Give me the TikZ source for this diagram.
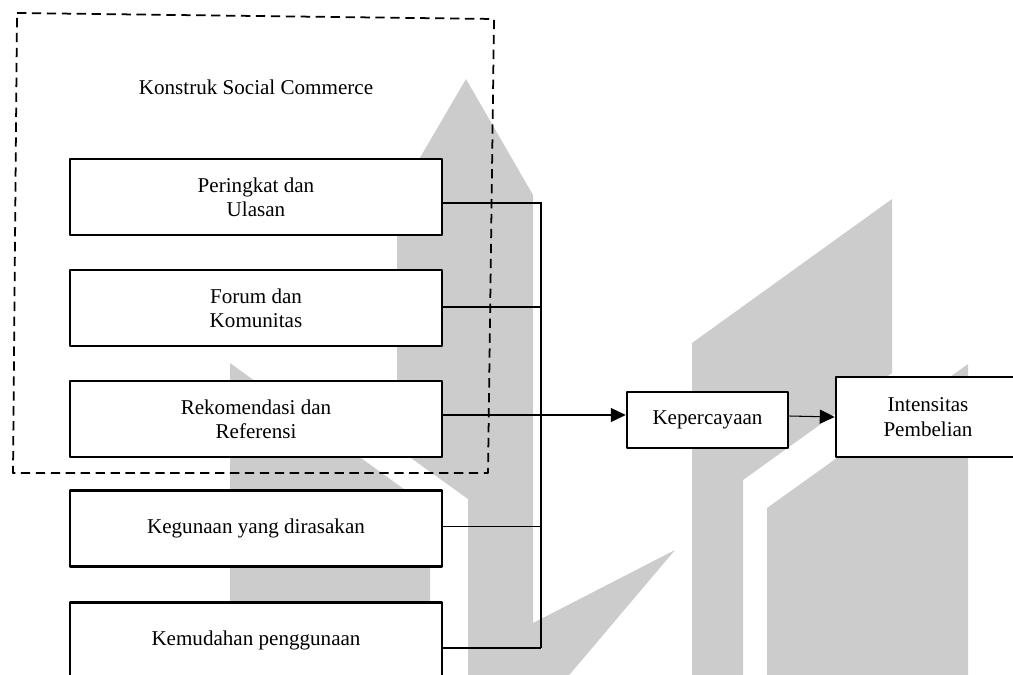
\documentclass[tikz,border=0pt]{standalone}
\usepackage{fontspec}
\setmainfont{Liberation Serif}
\usetikzlibrary{arrows.meta,calc}
\definecolor{wmark}{RGB}{204,204,204}
\begin{document}
\begin{tikzpicture}[x=0.02cm,y=-0.02cm,>={Triangle[length=8.5pt,width=8pt]},
	font={\fontsize{12}{13.8}\selectfont}, line join=round,
	box/.style={draw,fill=white,line width=1.5pt,minimum width=7.44cm,minimum height=1.52cm,align=center,inner sep=0pt},
	link/.style={line width=0.6pt},
	logo/.style={fill=wmark,draw=none}]
	\def\bx{256} \def\bus{541} % kolom kotak, garis pengumpul
	\useasboundingbox (0,0) rectangle (1013,675);
	\clip (0,0) rectangle (1013,675);
	% logo latar
	\fill[logo] (397,197)--(466,79)--(533,195)--(533,623)--(675,550)--(565,680)--(468,680)--(468,499)--(397,448)--cycle;
	\fill[logo] (230,363)--(430,508)--(430,680)--(230,680)--cycle;
	\fill[logo] (692,343)--(892,199)--(892,373)--(743,480)--(743,680)--(692,680)--cycle;
	\fill[logo] (767,508)--(968,364)--(968,680)--(767,680)--cycle;
	% kelompok social commerce
	\draw[line width=1pt,dash pattern=on 5.3pt off 3.2pt] (17,13)--(494,19)--(488,473)--(13,473)--cycle;
	\node (judul) at (\bx,87) {Konstruk Social Commerce};
	\node[box] (ulasan) at (\bx,197) {Peringkat dan\\Ulasan};
	\node[box] (forum) at (\bx,308) {Forum dan\\Komunitas};
	\node[box] (rekom) at (\bx,419) {Rekomendasi dan\\Referensi};
	\node[box] (guna) at (\bx,528.5) {Kegunaan yang dirasakan};
	\node[box] (mudah) at (\bx,640.5) {Kemudahan penggunaan};
	\node[box,minimum width=3.22cm,minimum height=1.12cm] (percaya) at (707.5,420) {Kepercayaan};
	\node[box,minimum width=3.68cm,minimum height=1.6cm] (beli) at (928,417) {Intensitas\\Pembelian};
	% garis pengumpul
	\coordinate (atas) at (\bus,202);
	\coordinate (bawah) at (\bus,648);
	\draw[link] (atas)--(bawah);
	\draw[link] ($(ulasan.east)+(0,6)$) coordinate (u1)--(u1 -| atas);
	\draw[link] ($(forum.east)+(0,-1)$) coordinate (u2)--(u2 -| atas);
	\draw[link] ($(guna.east)+(0,-2)$) coordinate (u4)--(u4 -| atas);
	\draw[link] ($(mudah.east)+(0,7.5)$) coordinate (u5)--(u5 -| atas);
	\draw[link,->] ($(rekom.east)+(0,-4)$)--($(percaya.west)+(0,-5)$);
	\draw[link,->] ($(percaya.east)+(0,-4)$)--(beli.west);
\end{tikzpicture}
\end{document}
